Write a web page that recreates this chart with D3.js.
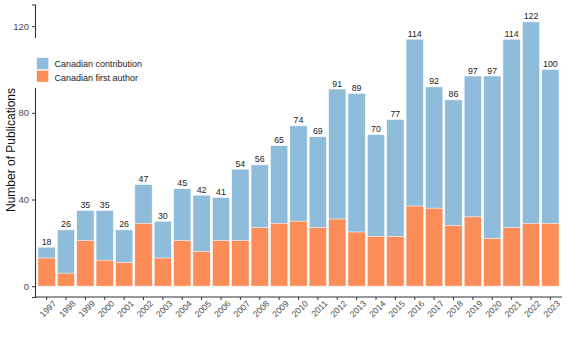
<!DOCTYPE html>
<html>
<head>
<meta charset="utf-8">
<script src="https://cdn.jsdelivr.net/npm/d3@7"></script>
<style>
  body { margin: 0; background: #fff; }
  svg { font-family: "Liberation Sans", Arial, sans-serif; }
</style>
</head>
<body>
<div id="chart"></div>
<script>
var years = ["1997","1998","1999","2000","2001","2002","2003","2004","2005","2006","2007","2008","2009",
             "2010","2011","2012","2013","2014","2015","2016","2017","2018","2019","2020","2021","2022","2023"];
// total publications with a Canadian contribution
var contribution = [18,26,35,35,26,47,30,45,42,41,54,56,65,74,69,91,89,70,77,114,92,86,97,97,114,122,100];
// publications with a Canadian first author
var firstAuthor = [13,6,21,12,11,29,13,21,16,21,21,27,29,30,27,31,25,23,23,37,36,28,32,22,27,29,29];
var yTicks = [0, 40, 80, 120];
var legendLabels = ["Canadian contribution", "Canadian first author"];
var colors = ["#8fbcdb", "#fc8d59"];

var width = 567, height = 340;
var svg = d3.select("#chart").append("svg")
    .attr("width", width)
    .attr("height", height);

var x = d3.scaleBand()
    .domain(years)
    .range([35, 562])
    .paddingInner(0.1)
    .paddingOuter(0.15);

var y = d3.scaleLinear()
    .domain([-5, 130])
    .range([297, 4.5]);

// totals in blue, first-author share stacked in front in orange
svg.append("g").selectAll("rect")
    .data(years)
    .enter().append("rect")
    .attr("x", function(d) { return x(d); })
    .attr("width", x.bandwidth())
    .attr("y", function(d, i) { return y(contribution[i]); })
    .attr("height", function(d, i) { return y(0) - y(contribution[i]); })
    .attr("fill", colors[0])
    .attr("stroke", "#fff")
    .attr("stroke-width", 0.6);

svg.append("g").selectAll("rect")
    .data(years)
    .enter().append("rect")
    .attr("x", function(d) { return x(d); })
    .attr("width", x.bandwidth())
    .attr("y", function(d, i) { return y(firstAuthor[i]); })
    .attr("height", function(d, i) { return y(0) - y(firstAuthor[i]); })
    .attr("fill", colors[1])
    .attr("stroke", "#fff")
    .attr("stroke-width", 0.6);

svg.append("g").selectAll("text")
    .data(years)
    .enter().append("text")
    .attr("x", function(d) { return x(d) + x.bandwidth() / 2; })
    .attr("y", function(d, i) { return y(contribution[i]) - 2.5; })
    .attr("text-anchor", "middle")
    .attr("font-size", "8.8px")
    .attr("fill", "#222")
    .text(function(d, i) { return contribution[i]; });

// axes
var yAxis = d3.axisLeft(y).tickValues(yTicks).tickSize(3).tickPadding(3);
var gy = svg.append("g")
    .attr("transform", "translate(35,0)")
    .call(yAxis);
gy.select(".domain").attr("stroke", "#333").attr("stroke-width", 1.1);
gy.selectAll(".tick line").attr("stroke", "#333");
gy.selectAll(".tick text").attr("fill", "#4d4d4d").attr("font-size", "9.5px");

var xAxis = d3.axisBottom(x).tickSize(3).tickPadding(2).tickSizeOuter(0);
var gx = svg.append("g")
    .attr("transform", "translate(0,297)")
    .call(xAxis);
gx.select(".domain").attr("stroke", "#333").attr("stroke-width", 1.1);
gx.selectAll(".tick line").attr("stroke", "#333");
gx.selectAll(".tick text")
    .attr("fill", "#4d4d4d")
    .attr("font-size", "8.6px")
    .attr("text-anchor", "end")
    .attr("dy", "0.6em")
    .attr("transform", "translate(3,0) rotate(-45)");

gx.select(".domain").attr("d", "M35,0H562");

svg.append("text")
    .attr("transform", "translate(15,150) rotate(-90)")
    .attr("text-anchor", "middle")
    .attr("font-size", "12px")
    .attr("fill", "#111")
    .text("Number of Publications");

// legend sits on a white panel over the axis line
var legend = svg.append("g");
legend.append("rect")
    .attr("x", 30).attr("y", 38)
    .attr("width", 140).attr("height", 50)
    .attr("fill", "#fff");
legendLabels.forEach(function(label, i) {
  legend.append("rect")
      .attr("x", 36.7).attr("y", 57.7 + i * 12.6)
      .attr("width", 12).attr("height", 11.8)
      .attr("fill", colors[i])
      .attr("stroke", "#fff")
      .attr("stroke-width", 0.5);
  legend.append("text")
      .attr("x", 54.5).attr("y", 66.8 + i * 13.8)
      .attr("font-size", "9px")
      .attr("fill", "#222")
      .text(label);
});
</script>
</body>
</html>
